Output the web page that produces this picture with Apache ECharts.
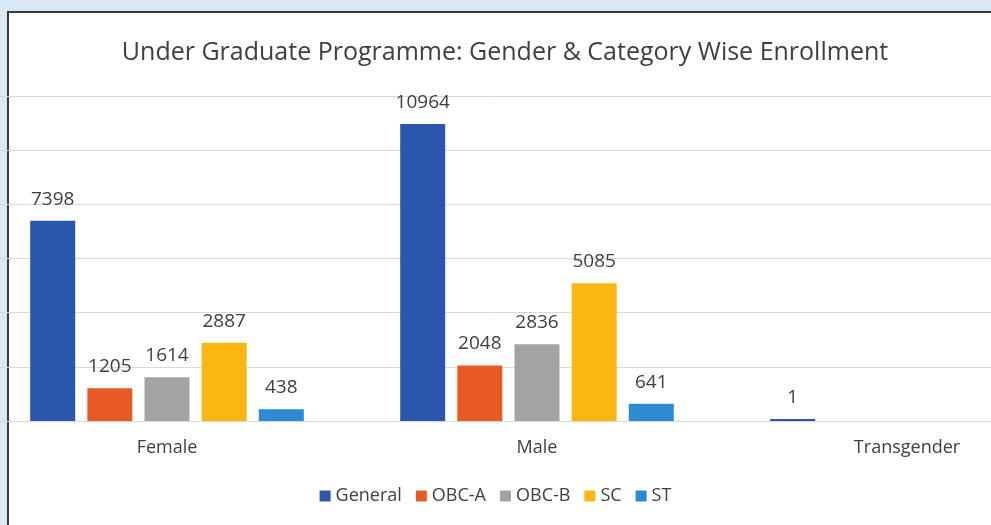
<!DOCTYPE html>
<html lang="en">
<head>
    <meta charset="UTF-8">
    <title>UG Enrollment</title>
    <script src="https://cdn.jsdelivr.net/npm/echarts@6/dist/echarts.min.js"></script>
    <style>
        html, body { margin: 0; padding: 0; }
        #main { width: 991px; height: 525px; }
    </style>
</head>
<body>
<div id="main"></div>
<script>
    // data
    var genders = ['Female', 'Male', 'Transgender'];
    var general = [7398, 10964, 1];
    var obcA = [1205, 2048, null];
    var obcB = [1614, 2836, null];
    var sc = [2887, 5085, null];
    var st = [438, 641, null];

    var font = '"Open Sans", "Noto Sans", sans-serif';

    function bar(name, values, color) {
        return {
            name: name,
            type: 'bar',
            data: values,
            barWidth: 45,
            barGap: '27%',
            barMinHeight: 2,
            itemStyle: { color: color },
            label: {
                show: true,
                position: 'top',
                distance: 12,
                color: '#404040',
                fontSize: 19,
                fontFamily: font
            }
        };
    }

    var myChart = echarts.init(document.getElementById('main'));
    var option = {
        backgroundColor: '#d9e9f3',
        graphic: [{
            type: 'rect',
            z: -1,
            shape: { x: 8, y: 12, width: 1000, height: 530 },
            style: { fill: '#ffffff', stroke: '#3a3a3a', lineWidth: 2 }
        }],
        title: {
            text: 'Under Graduate Programme: Gender & Category Wise Enrollment',
            left: 500,
            textAlign: 'center',
            top: 35,
            textStyle: { color: '#404040', fontSize: 25, fontWeight: 'normal', fontFamily: font }
        },
        legend: {
            bottom: 15,
            left: 'center',
            icon: 'rect',
            itemWidth: 11,
            itemHeight: 11,
            itemGap: 14,
            textStyle: { color: '#404040', fontSize: 18, fontFamily: font }
        },
        grid: { left: -18, right: -101, top: 96, bottom: 104, outerBoundsMode: 'none' },
        xAxis: {
            type: 'category',
            data: genders,
            axisLine: { lineStyle: { color: '#d9d9d9' } },
            axisTick: { show: false },
            axisLabel: { color: '#404040', fontSize: 18, fontFamily: font, margin: 18 }
        },
        yAxis: {
            type: 'value',
            min: 0,
            max: 12000,
            interval: 2000,
            axisLabel: { show: false },
            axisLine: { show: false },
            axisTick: { show: false },
            splitLine: { lineStyle: { color: '#d9d9d9' } }
        },
        series: [
            bar('General', general, '#2a56ab'),
            bar('OBC-A', obcA, '#e85a24'),
            bar('OBC-B', obcB, '#a3a3a3'),
            bar('SC', sc, '#fbb611'),
            bar('ST', st, '#2e8bd3')
        ]
    };
    option && myChart.setOption(option);
</script>
</body>
</html>
